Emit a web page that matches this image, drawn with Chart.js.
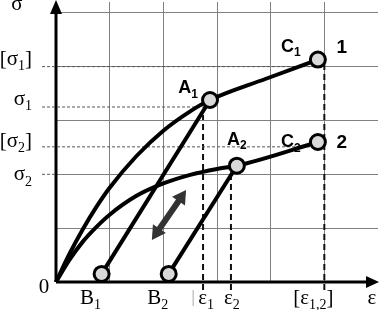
<!DOCTYPE html>
<html>
<head>
<meta charset="utf-8">
<script src="https://cdn.jsdelivr.net/npm/chart.js@4/dist/chart.umd.min.js"></script>
<style>
  html, body { margin: 0; padding: 0; background: #fff; }
  #wrap { width: 379px; height: 310px; position: relative; }
</style>
</head>
<body>
<div id="wrap"><canvas id="chart"></canvas></div>
<script>
// stress-strain diagram, values (grid step = 1)
const curve1X = [0, 0.25, 0.5, 0.75, 1.0, 1.5, 2.0, 2.5, 2.87, 3.9, 4.88];
const curve1Y = [0, 0.52, 0.98, 1.39, 1.75, 2.34, 2.81, 3.17, 3.38, 3.77, 4.13];
const curve2X = [0, 0.25, 0.5, 0.75, 1.0, 1.5, 2.0, 2.5, 3.0, 3.37, 4.88];
const curve2Y = [0, 0.41, 0.75, 1.02, 1.25, 1.60, 1.83, 1.99, 2.10, 2.16, 2.60];

const unload1X = [0.85, 2.87];
const unload1Y = [0.15, 3.38];
const unload2X = [2.10, 3.37];
const unload2Y = [0.15, 2.16];

const pointNames = ['A{1}', 'A{2}', 'C{1}', 'C{2}'];
const pointX = [2.87, 3.37, 4.88, 4.88, 0.85, 2.10];
const pointY = [3.38, 2.16, 4.13, 2.60, 0.15, 0.15];

const arrowX = [1.88, 2.33];
const arrowY = [0.92, 1.57];

const yTickValues = [4.0, 3.25, 2.51, 2.0];
const yTickLabels = ['[σ{1}]', 'σ{1}', '[σ{2}]', 'σ{2}'];
const yGuideEnd = [4.88, 2.87, 4.88, 0];

const xTickValues = [0.85, 2.10, 2.74, 3.26, 5.0];
const xTickLabels = ['B{1}', 'B{2}', 'ε{1}', 'ε{2}', '[ε{1,2}]'];
const xGuideEnd = [null, null, 3.1, 2.05, 4.13];

const curveNames = ['1', '2'];

function pts(xs, ys) { return xs.map((x, i) => ({ x: x, y: ys[i] })); }

const datasets = [];
datasets.push({
    type: 'scatter', data: pts(pointX, pointY), showLine: false,
    pointRadius: 7.5, pointBorderWidth: 3, pointBorderColor: '#000', pointBackgroundColor: '#d9d9d9'
});
datasets.push({
    data: pts(arrowX, arrowY), borderColor: '#333', borderWidth: 6,
    pointStyle: 'triangle', pointRadius: 9, pointBorderWidth: 0,
    pointBackgroundColor: '#333', pointRotation: [214, 34]
});
[[curve1X, curve1Y], [curve2X, curve2Y]].forEach(c => {
    datasets.push({ data: pts(c[0], c[1]), borderColor: '#000', borderWidth: 4, pointRadius: 0, cubicInterpolationMode: 'monotone' });
});
[[unload1X, unload1Y], [unload2X, unload2Y]].forEach(c => {
    datasets.push({ data: pts(c[0], c[1]), borderColor: '#000', borderWidth: 4, pointRadius: 0 });
});
// dashed guides
yTickValues.forEach((v, i) => {
    datasets.push({ data: [{ x: -0.26, y: v }, { x: yGuideEnd[i], y: v }], borderColor: '#555', borderWidth: 1, borderDash: [3, 2], pointRadius: 0 });
});
xTickValues.forEach((v, i) => {
    if (xGuideEnd[i] === null) return;
    datasets.push({ data: [{ x: v, y: -0.15 }, { x: v, y: xGuideEnd[i] }], borderColor: '#111', borderWidth: 2, borderDash: [6, 4], pointRadius: 0 });
});
datasets.forEach(d => { d.clip = false; });

function drawRich(ctx, str, x, y, align, size, family, weight) {
    const subSize = Math.round(size * 0.66);
    const parts = str.split(/(\{[^}]*\})/).filter(Boolean).map(p =>
        p[0] === '{' ? { t: p.slice(1, -1), s: true } : { t: p, s: false });
    let total = 0;
    parts.forEach(p => {
        ctx.font = weight + ' ' + (p.s ? subSize : size) + 'px ' + family;
        p.w = ctx.measureText(p.t).width;
        total += p.w;
    });
    let cx = align === 'right' ? x - total : align === 'center' ? x - total / 2 : x;
    ctx.textAlign = 'left';
    ctx.textBaseline = 'alphabetic';
    parts.forEach(p => {
        ctx.font = weight + ' ' + (p.s ? subSize : size) + 'px ' + family;
        ctx.fillText(p.t, cx, p.s ? y + size * 0.25 : y);
        cx += p.w;
    });
}

const axesPlugin = {
    id: 'axes',
    beforeDatasetsDraw(chart) {
        const ctx = chart.ctx, a = chart.chartArea;
        const x0 = chart.scales.x.getPixelForValue(0);
        const y0 = chart.scales.y.getPixelForValue(0);
        ctx.save();
        ctx.strokeStyle = '#000';
        ctx.fillStyle = '#000';
        ctx.lineWidth = 3;
        ctx.beginPath();
        ctx.moveTo(x0, y0); ctx.lineTo(x0, a.top + 10);
        ctx.moveTo(x0, y0); ctx.lineTo(a.right - 10, y0);
        ctx.stroke();
        ctx.beginPath();
        ctx.moveTo(x0, a.top - 2); ctx.lineTo(x0 - 6, a.top + 12); ctx.lineTo(x0 + 6, a.top + 12);
        ctx.closePath(); ctx.fill();
        ctx.beginPath();
        ctx.moveTo(a.right + 1, y0); ctx.lineTo(a.right - 12, y0 - 6); ctx.lineTo(a.right - 12, y0 + 6);
        ctx.closePath(); ctx.fill();
        ctx.restore();
    }
};

const textPlugin = {
    id: 'texts',
    afterDraw(chart) {
        const ctx = chart.ctx, sx = chart.scales.x, sy = chart.scales.y;
        const serif = '"Liberation Serif", "Times New Roman", serif';
        const sans = '"Liberation Sans", Arial, sans-serif';
        ctx.save();
        ctx.fillStyle = '#000';
        const yDy = [-2, -2, 0, 6];
        yTickValues.forEach((v, i) => drawRich(ctx, yTickLabels[i], 32, sy.getPixelForValue(v) + yDy[i], 'right', 21, serif, 'normal'));
        const base = sy.getPixelForValue(0) + 22;
        const xDx = [-11, -11, 3, 1, -11];
        xTickValues.forEach((v, i) => drawRich(ctx, xTickLabels[i], sx.getPixelForValue(v) + xDx[i], base, 'center', 21, serif, 'normal'));
        ctx.fillStyle = '#999';
        drawRich(ctx, '|', sx.getPixelForValue(xTickValues[2]) - 10, base - 2, 'center', 16, serif, 'normal');
        ctx.fillStyle = '#000';
        drawRich(ctx, '0', 44, base - 11, 'center', 21, serif, 'normal');
        drawRich(ctx, 'σ', 17, 10, 'center', 21, serif, 'normal');
        drawRich(ctx, 'ε', 372, base, 'center', 21, serif, 'normal');

        // point names and curve numbers
        const off = [[-22, -7], [0, -21], [-27, -8], [-27, 5]];
        for (let i = 0; i < 4; i++) {
            const px = sx.getPixelForValue(pointX[i]), py = sy.getPixelForValue(pointY[i]);
            drawRich(ctx, pointNames[i], px + off[i][0], py + off[i][1], 'center', 18, sans, 'bold');
        }
        [2, 3].forEach((k, i) => {
            const px = sx.getPixelForValue(pointX[k]), py = sy.getPixelForValue(pointY[k]);
            drawRich(ctx, curveNames[i], px + 24, py - (i === 0 ? 7 : -6), 'center', 19, sans, 'bold');
        });
        ctx.restore();
    }
};

function intTicks(n) {
    return function (scale) { scale.ticks = []; for (let i = 0; i <= n; i++) scale.ticks.push({ value: i }); };
}

new Chart(document.getElementById('chart'), {
    type: 'line',
    data: { datasets: datasets },
    options: {
        responsive: true,
        maintainAspectRatio: false,
        animation: false,
        layout: { autoPadding: false, padding: { left: 56, right: 1, top: 2, bottom: 28 } },
        plugins: { legend: { display: false }, tooltip: { enabled: false } },
        scales: {
            x: {
                type: 'linear', min: 0, max: 6,
                afterBuildTicks: intTicks(5),
                grid: { color: '#808080', lineWidth: 1, drawTicks: false },
                border: { display: false },
                ticks: { display: false }
            },
            y: {
                type: 'linear', min: 0, max: 5.2,
                afterBuildTicks: intTicks(5),
                grid: { color: '#808080', lineWidth: 1, drawTicks: false },
                border: { display: false },
                ticks: { display: false }
            }
        }
    },
    plugins: [axesPlugin, textPlugin]
});
</script>
</body>
</html>
